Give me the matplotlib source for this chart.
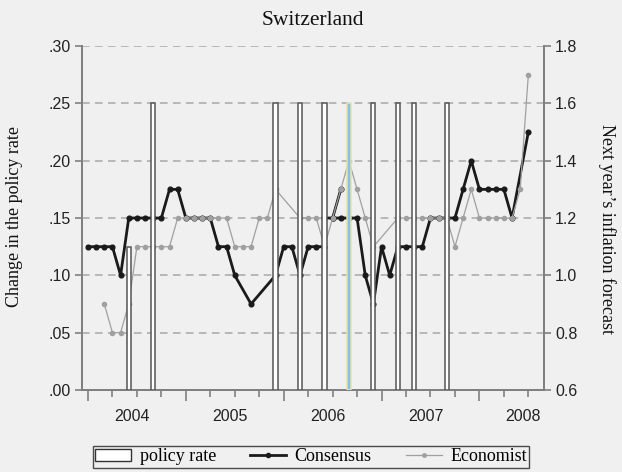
import numpy as np
import matplotlib.pyplot as plt
from matplotlib.patches import Patch
from matplotlib.lines import Line2D

# months counted from Jan 2004 (0) to Jul 2008 (54)
years = ["2004", "2005", "2006", "2007", "2008"]

# policy rate changes (left axis)
bar_month = [5, 8, 23, 26, 29, 32, 35, 38, 40, 44]
bar_change = [0.125, 0.25, 0.25, 0.25, 0.25, 0.25, 0.25, 0.25, 0.25, 0.25]
highlight_month = 32

# next year's inflation forecast (right axis), in drawing order (nan = break)
nan = np.nan
cons_month = [0, 1, 2, 3, 4, 5, 6, 7, 8, 9, 10, 11, 12, 13, 14, 15, 16, 17, 18, 20,
              23, 24, 25, 26, 27, 28, 29, 29, 30, 31, 30, 30, 31, 32, 33, 34, 35, 36, 37,
              38, 39, 40, 41, 42, 43, 44, 45, 46, 47, 48, 49, 50, 51, 52, 54]
cons_value = [1.1, 1.1, 1.1, 1.1, 1.0, 1.2, 1.2, 1.2, 1.2, 1.2, 1.3, 1.3, 1.2, 1.2, 1.2, 1.2, 1.1, 1.1, 1.0, 0.9,
              1.0, 1.1, 1.1, 1.0, 1.1, 1.1, 1.1, 1.2, 1.2, 1.3, nan, 1.2, 1.2, 1.2, 1.2, 1.0, 0.9, 1.1, 1.0,
              1.1, 1.1, 1.1, 1.1, 1.2, 1.2, 1.2, 1.2, 1.3, 1.4, 1.3, 1.3, 1.3, 1.3, 1.2, 1.5]

econ_month = [2, 3, 4, 5, 6, 7, 8, 9, 10, 11, 12, 13, 14, 15, 16, 17, 18, 19, 20, 21, 22, 23,
              26, 27, 28, 29, 30, 31, 32, 33, 34, 35, 38, 39, 40, 41, 42, 43, 44, 45,
              46, 47, 48, 49, 50, 51, 52, 53, 54]
econ_value = [0.9, 0.8, 0.8, 0.9, 1.1, 1.1, 1.1, 1.1, 1.1, 1.2, 1.2, 1.2, 1.2, 1.2, 1.2, 1.2, 1.1, 1.1, 1.1, 1.2, 1.2, 1.3,
              1.2, 1.2, 1.2, 1.1, 1.2, 1.3, 1.4, 1.3, 1.2, 1.1, 1.2, 1.2, 1.2, 1.2, 1.2, 1.2, 1.2, 1.1,
              1.2, 1.3, 1.2, 1.2, 1.2, 1.2, 1.2, 1.3, 1.7]

bg = '#f0f0f0'
axcol = '#808080'
serif = 'Liberation Serif'
sans = 'Liberation Sans'

fig = plt.figure(figsize=(6.22, 4.72), dpi=100, facecolor=bg)
ax = fig.add_axes([0.1312, 0.1737, 0.7434, 0.7288])
ax.set_facecolor(bg)
ax2 = ax.twinx()

# lines on base axes (right scale)
for v in [0.8, 1.0, 1.2, 1.4, 1.6, 1.8]:
    ax.axhline(v, color='#a8a8a8', lw=1.1, ls=(0, (5, 3.5)), zorder=0)
ax.plot(cons_month, cons_value, color='#1a1a1a', lw=2, marker='o', ms=3.4, zorder=2)
ax.plot(econ_month, econ_value, color='#a0a0a0', lw=0.9, marker='o', ms=3.0, zorder=3)
ax.set_ylim(0.6, 1.8)
ax.set_xlim(-0.78, 55.92)
ax.yaxis.tick_right()
ax.set_yticks([0.6, 0.8, 1.0, 1.2, 1.4, 1.6, 1.8])
ax.set_yticklabels(["0.6", "0.8", "1.0", "1.2", "1.4", "1.6", "1.8"])

# bars on twin axes (left scale), drawn on top
colors = ['#86c0e4' if m == highlight_month else 'white' for m in bar_month]
edges = ['#e4e4a8' if m == highlight_month else '#555555' for m in bar_month]
ax2.bar(bar_month, bar_change, width=0.5, color=colors, edgecolor=edges, lw=1.1, zorder=3)
ax2.set_ylim(0, 0.30)
ax2.yaxis.tick_left()
ax2.set_yticks([0, 0.05, 0.10, 0.15, 0.20, 0.25, 0.30])
ax2.set_yticklabels([".00", ".05", ".10", ".15", ".20", ".25", ".30"])

for a in (ax, ax2):
    a.spines['top'].set_visible(False)
    for s in ('left', 'right', 'bottom'):
        a.spines[s].set_color(axcol)
        a.spines[s].set_linewidth(1.3)
    a.tick_params(axis='y', colors=axcol, length=5, width=1.2, labelsize=11.5, labelcolor='#222222', pad=3)
    for lab in a.get_yticklabels():
        lab.set_fontfamily(sans)

ax.set_xticks([0, 12, 24, 36, 48])
ax.set_xticks(range(0, 55, 3), minor=True)
ax.tick_params(axis='x', which='major', length=8, width=1.2, colors=axcol, labelbottom=False)
ax.tick_params(axis='x', which='minor', length=5, width=1.2, colors=axcol)
for i, y in enumerate(years):
    ax.text(5.4 + 12 * i, -0.076, y, transform=ax.get_xaxis_transform(), ha='center', va='center',
            fontsize=11.5, family=sans, color='#222222')

fig.text(0.503, 0.957, "Switzerland", ha='center', va='center', fontsize=15.5, family=serif, color='#111111')
fig.text(0.024, 0.541, "Change in the policy rate", rotation=90, ha='center', va='center',
         fontsize=13, family=serif, color='#111111')
fig.text(0.976, 0.515, "Next year\u2019s inflation forecast", rotation=270, ha='center', va='center',
         fontsize=13, family=serif, color='#111111')

handles = [Patch(facecolor='white', edgecolor='#333333', lw=1),
           Line2D([], [], color='#1a1a1a', lw=2, marker='o', ms=3),
           Line2D([], [], color='#a0a0a0', lw=0.9, marker='o', ms=2.5)]
leg = fig.legend(handles, ["policy rate", "Consensus", "Economist"], loc='center',
                 bbox_to_anchor=(0.5, 0.032), ncol=3, frameon=True, fancybox=False,
                 edgecolor='#222222', facecolor=bg, prop={'family': serif, 'size': 13},
                 handlelength=2.0, handletextpad=0.45, columnspacing=1.9, borderpad=0.12)
leg.get_frame().set_linewidth(1)

fig.savefig('out.png', dpi=100, facecolor=bg)
